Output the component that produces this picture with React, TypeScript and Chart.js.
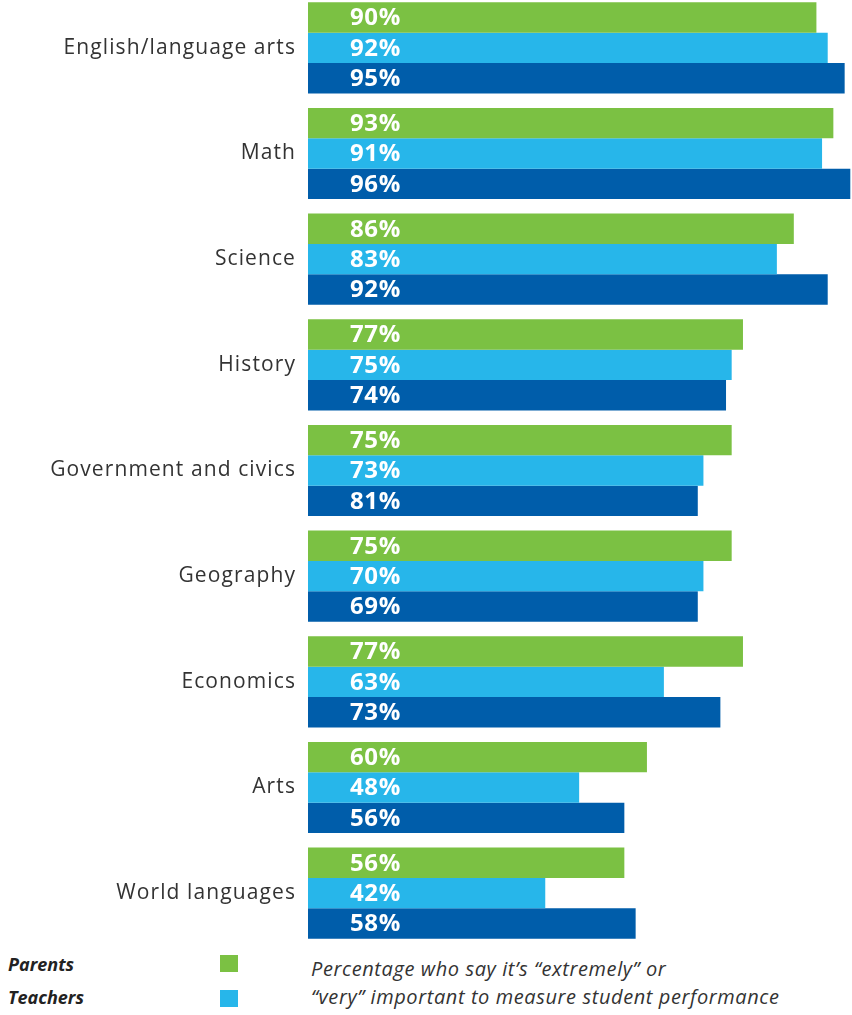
import React, { useEffect, useRef } from "react";
import { Chart, registerables } from "chart.js";

Chart.register(...registerables);

const categories = [
  "English/language arts",
  "Math",
  "Science",
  "History",
  "Government and civics",
  "Geography",
  "Economics",
  "Arts",
  "World languages",
];

// bar lengths as drawn in the picture
const parentsValues = [90, 93, 86, 77, 75, 75, 77, 60, 56];
const teachersValues = [92, 91, 83, 75, 70, 70, 63, 48, 42];
const adminValues = [95, 96, 92, 74, 69, 69, 73, 56, 58];

// printed labels
const parentsLabels = ["90%", "93%", "86%", "77%", "75%", "75%", "77%", "60%", "56%"];
const teachersLabels = ["92%", "91%", "83%", "75%", "73%", "70%", "63%", "48%", "42%"];
const adminLabels = ["95%", "96%", "92%", "74%", "81%", "69%", "73%", "56%", "58%"];

const seriesNames = ["Parents", "Teachers", "Administrators"];
const colors = ["#7BC143", "#27B6EA", "#005DAA"];

const noteLines = [
  "Percentage who say it\u2019s \u201Cextremely\u201D or",
  "\u201Cvery\u201D important to measure student performance",
];

export default function App() {
  const ref = useRef<HTMLCanvasElement | null>(null);

  useEffect(() => {
    if (!ref.current) return;
    const allLabels = [parentsLabels, teachersLabels, adminLabels];
    const spacingPlugin = {
      id: "spacing",
      beforeDraw(chart: any) {
        (chart.ctx as any).letterSpacing = "1.1px";
      },
    };
    const labelPlugin = {
      id: "barLabels",
      afterDatasetsDraw(chart: any) {
        const ctx = chart.ctx;
        ctx.save();
        (ctx as any).letterSpacing = "0.6px";
        ctx.fillStyle = "#ffffff";
        ctx.font = "bold 24px 'Open Sans', sans-serif";
        ctx.textAlign = "left";
        ctx.textBaseline = "middle";
        chart.data.datasets.forEach((_ds: any, di: number) => {
          const meta = chart.getDatasetMeta(di);
          meta.data.forEach((bar: any, i: number) => {
            ctx.fillText(allLabels[di][i], chart.chartArea.left + 42, bar.y + 1);
          });
        });
        ctx.restore();
      },
    };
    const chart = new Chart(ref.current, {
      type: "bar",
      data: {
        labels: categories,
        datasets: [
          { label: seriesNames[0], data: parentsValues, backgroundColor: colors[0] },
          { label: seriesNames[1], data: teachersValues, backgroundColor: colors[1] },
          { label: seriesNames[2], data: adminValues, backgroundColor: colors[2] },
        ],
      },
      options: {
        indexAxis: "y",
        responsive: false,
        animation: false,
        layout: { padding: 0 },
        datasets: {
          bar: { barPercentage: 1, categoryPercentage: 0.862, borderWidth: 0 },
        },
        plugins: {
          legend: { display: false },
          tooltip: { enabled: false },
        },
        scales: {
          x: { display: false, min: 0, max: 96.3 },
          y: {
            grid: { display: false, drawTicks: false },
            border: { display: false },
            ticks: {
              color: "#333333",
              padding: 12,
              font: { family: "'Open Sans', sans-serif", size: 21 },
            },
            afterFit(scale: any) {
              scale.width = 308;
              scale.paddingTop = 0;
              scale.paddingBottom = 0;
            },
          },
        },
      },
      plugins: [spacingPlugin, labelPlugin],
    });
    return () => chart.destroy();
  }, []);

  const legendText: React.CSSProperties = {
    position: "absolute",
    left: 8,
    fontFamily: "'Open Sans', sans-serif",
    fontWeight: 700,
    fontStyle: "italic",
    fontSize: 18,
    color: "#222",
  };

  return (
    <div style={{ position: "absolute", left: 0, top: 0, width: 852, height: 1015, overflow: "hidden", background: "#fff" }}>
      <canvas ref={ref} width={852} height={951} style={{ position: "absolute", left: 0, top: -5 }} />
      <div style={{ ...legendText, top: 952 }}>{seriesNames[0]}</div>
      <div style={{ ...legendText, top: 985 }}>{seriesNames[1]}</div>
      <div style={{ position: "absolute", left: 220, top: 955, width: 18, height: 17, background: colors[0] }} />
      <div style={{ position: "absolute", left: 220, top: 990, width: 18, height: 17, background: colors[1] }} />
      <div
        style={{
          position: "absolute",
          left: 311,
          top: 955,
          fontFamily: "'Open Sans', sans-serif",
          fontStyle: "italic",
          fontSize: 20,
          letterSpacing: "0.6px",
          lineHeight: "28px",
          color: "#333",
          whiteSpace: "nowrap",
        }}
      >
        <div>{noteLines[0]}</div>
        <div>{noteLines[1]}</div>
      </div>
    </div>
  );
}
